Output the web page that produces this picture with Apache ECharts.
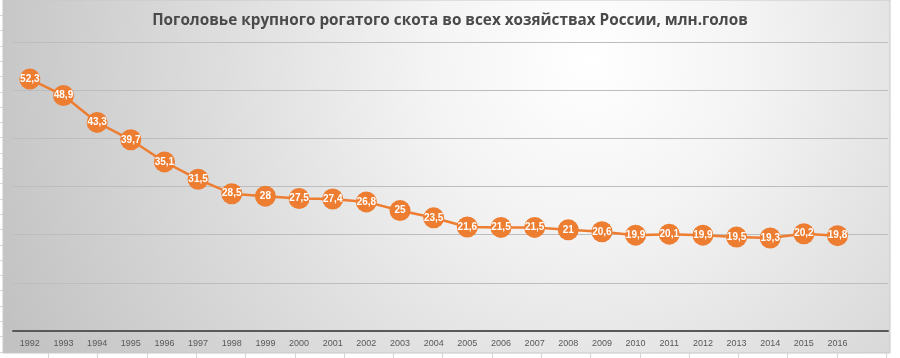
<!DOCTYPE html>
<html><head><meta charset="utf-8">
<script src="https://cdn.jsdelivr.net/npm/echarts@6/dist/echarts.min.js"></script>
<style>html,body{margin:0;padding:0;background:#fff}#c{width:900px;height:358px}</style>
</head><body><div id="c"></div>
<script>
const titleText = 'Поголовье крупного рогатого скота во всех хозяйствах России, млн.голов';
const years = ['1992','1993','1994','1995','1996','1997','1998','1999','2000','2001','2002','2003','2004','2005','2006','2007','2008','2009','2010','2011','2012','2013','2014','2015','2016',''];
const cattle = [52.3,48.9,43.3,39.7,35.1,31.5,28.5,28,27.5,27.4,26.8,25,23.5,21.6,21.5,21.5,21,20.6,19.9,20.1,19.9,19.5,19.3,20.2,19.8,null];
const yMin = 0, yMax = 60, yStep = 10;

const chart = echarts.init(document.getElementById('c'), null, {renderer:'canvas'});
const sheet = [];
for (let y = 15; y < 353; y += 15.3) sheet.push({type:'line', silent:true, z:-9, shape:{x1:0,y1:Math.round(y)+0.5,x2:3,y2:Math.round(y)+0.5}, style:{stroke:'#d4d4d4',lineWidth:1}});
for (let x = 48; x < 900; x += 49.3) sheet.push({type:'line', silent:true, z:-9, shape:{x1:Math.round(x)+0.5,y1:353,x2:Math.round(x)+0.5,y2:358}, style:{stroke:'#d4d4d4',lineWidth:1}});

const bg = new echarts.graphic.RadialGradient(590, 60, 640, [
  {offset:0, color:'#ffffff'}, {offset:0.25, color:'#f4f4f4'}, {offset:0.6, color:'#dcdcdc'}, {offset:1, color:'#c2c2c2'}], true);

chart.setOption({
  animation:false,
  backgroundColor:'#ffffff',
  graphic:[
    {type:'rect', silent:true, z:-10, shape:{x:3,y:0,width:887,height:353},
     style:{fill:bg, stroke:'#c8c8c8', lineWidth:1}}
  ].concat(sheet),
  title:{text:titleText, left:'center', top:8,
    textStyle:{fontFamily:'Open Sans', fontWeight:'bold', fontSize:15.3, color:'#4a4a4a'}},
  grid:{left:13, right:12, top:42, bottom:27, containLabel:false},
  xAxis:{type:'category', data:years, boundaryGap:true,
    axisLine:{lineStyle:{color:'#595959', width:2}},
    axisTick:{show:false},
    axisLabel:{color:'#595959', fontSize:9, fontFamily:'Liberation Sans', margin:8, interval:0},
    splitLine:{show:false}},
  yAxis:{type:'value', min:yMin, max:yMax, interval:yStep,
    axisLine:{show:false}, axisTick:{show:false}, axisLabel:{show:false},
    splitLine:{lineStyle:{color:'#bdbdbd', width:1}}},
  series:[{type:'line', data:cattle, symbol:'circle', symbolSize:21,
    lineStyle:{color:'#ED7D31', width:2.5},
    itemStyle:{color:'#ED7D31'},
    label:{show:true, position:'inside', color:'#ffffff', fontSize:10, fontWeight:'bold',
      fontFamily:'Liberation Sans Narrow, Liberation Sans',
      formatter:p => String(p.value).replace('.',',')}}]
});
</script></body></html>
